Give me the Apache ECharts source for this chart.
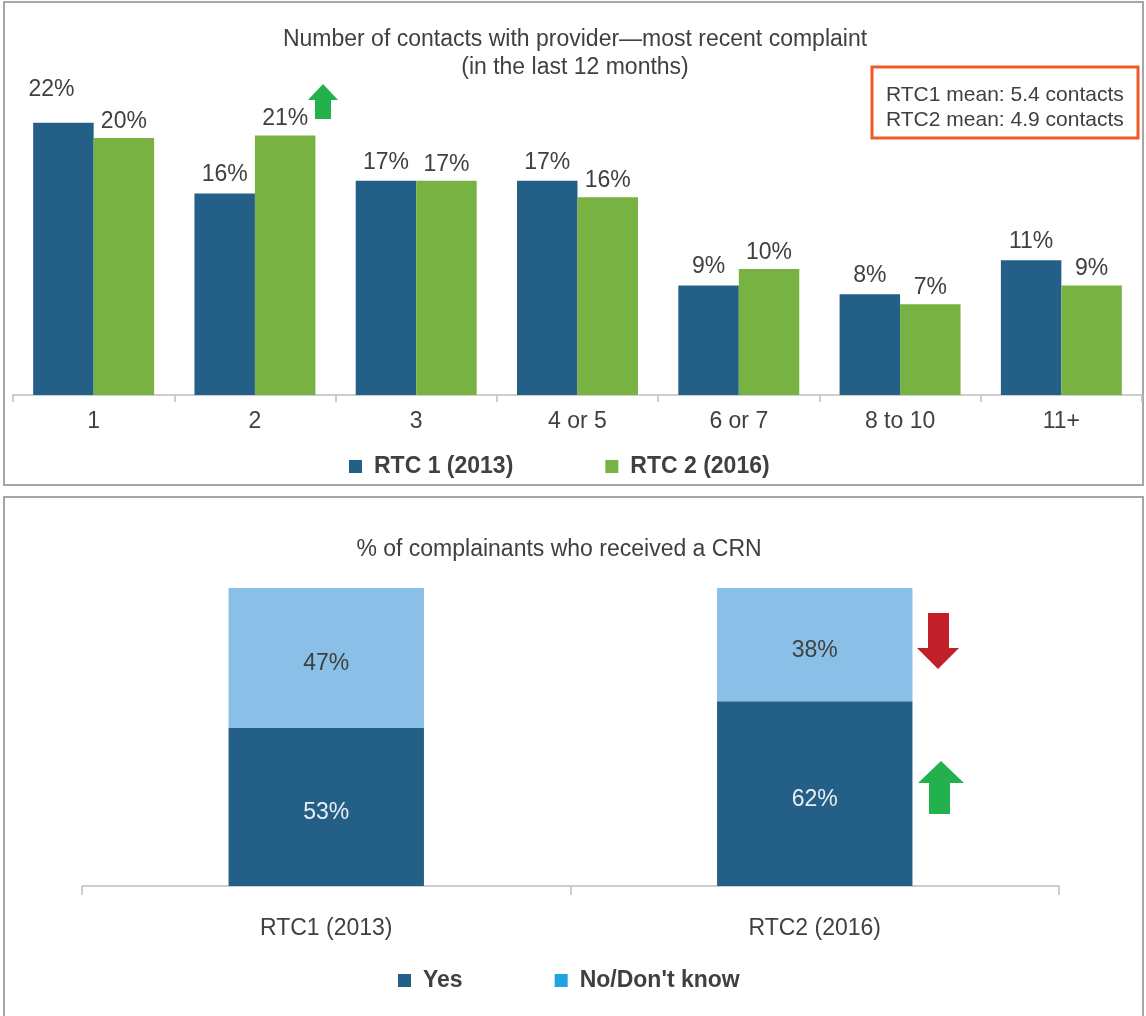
<!DOCTYPE html>
<html>
<head>
<meta charset="utf-8">
<script src="https://cdn.jsdelivr.net/npm/echarts@6/dist/echarts.min.js"></script>
<style>
  html, body { margin: 0; padding: 0; background: #fff; }
  #chart { width: 1146px; height: 1016px; }
</style>
</head>
<body>
<div id="chart"></div>
<script>
// top chart: number of contacts
const contactCats = ['1', '2', '3', '4 or 5', '6 or 7', '8 to 10', '11+']
const rtc1Contacts = [21.6, 16.0, 17.0, 17.0, 8.7, 8.0, 10.7]
const rtc2Contacts = [20.4, 20.6, 17.0, 15.7, 10.0, 7.2, 8.7]
const contactSeries = ['RTC 1 (2013)', 'RTC 2 (2016)']
const meanLines = ['RTC1 mean: 5.4 contacts', 'RTC2 mean: 4.9 contacts']

// bottom chart: received a CRN
const crnCats = ['RTC1 (2013)', 'RTC2 (2016)']
const crnYes = [53, 62]
const crnNo = [47, 38]
const crnSeries = ['Yes', "No/Don't know"]

const txt = '#404040'
const font = '"Liberation Sans", Arial, sans-serif'
const fs = 23
const darkBlue = '#245f87'
const green = '#77b243'
const lightBlue = '#8abfe8'

const chart = echarts.init(document.getElementById('chart'))

const pct = p => Math.round(p.value) + '%'

const legendText = { fontSize: fs, fontWeight: 'bold', color: txt, fontFamily: font, padding: [0, 0, 0, 7] }

const option = {
  animation: false,
  textStyle: { fontFamily: font },
  title: [
    {
      text: 'Number of contacts with provider\u2014most recent complaint\n(in the last 12 months)',
      left: 570, top: 21, textAlign: 'center',
      textStyle: { fontSize: fs, fontWeight: 'normal', color: txt, lineHeight: 28, fontFamily: font }
    },
    {
      text: '% of complainants who received a CRN',
      left: 554, top: 533, textAlign: 'center',
      textStyle: { fontSize: fs, fontWeight: 'normal', color: txt, fontFamily: font }
    }
  ],
  legend: [
    {
      data: contactSeries,
      top: 450, left: 344,
      icon: 'rect', itemWidth: 13, itemHeight: 13, itemGap: 92,
      textStyle: legendText
    },
    {
      data: [{ name: crnSeries[0] }, { name: crnSeries[1], itemStyle: { color: '#1ea4e0' } }],
      top: 964, left: 393,
      icon: 'rect', itemWidth: 13, itemHeight: 13, itemGap: 92,
      textStyle: legendText
    }
  ],
  grid: [
    { left: 13, right: 4, top: 80, bottom: 1016 - 395 },
    { left: 82, right: 87, top: 588, bottom: 1016 - 886 }
  ],
  xAxis: [
    {
      type: 'category', gridIndex: 0, data: contactCats,
      axisLine: { lineStyle: { color: '#bfbfbf', width: 1.5 } },
      axisTick: { show: true, alignWithLabel: false, length: 7, lineStyle: { color: '#bfbfbf', width: 1.5 } },
      axisLabel: { fontSize: fs, color: txt, margin: 15, fontFamily: font }
    },
    {
      type: 'category', gridIndex: 1, data: crnCats,
      axisLine: { lineStyle: { color: '#bfbfbf', width: 1.5 } },
      axisTick: { show: true, alignWithLabel: false, length: 9, lineStyle: { color: '#bfbfbf', width: 1.5 } },
      axisLabel: { fontSize: fs, color: txt, margin: 31, fontFamily: font }
    }
  ],
  yAxis: [
    { type: 'value', gridIndex: 0, min: 0, max: 25, show: false, splitLine: { show: false } },
    { type: 'value', gridIndex: 1, min: 0, max: 100, show: false, splitLine: { show: false } }
  ],
  series: [
    {
      name: contactSeries[0], type: 'bar', xAxisIndex: 0, yAxisIndex: 0,
      data: rtc1Contacts.map((v, i) => i === 0 ? { value: v, label: { offset: [-12, -15] } } : v),
      barGap: '0%', barCategoryGap: '25%',
      itemStyle: { color: darkBlue },
      label: { show: true, position: 'top', distance: 7, fontSize: fs, color: txt, formatter: pct, fontFamily: font }
    },
    {
      name: contactSeries[1], type: 'bar', xAxisIndex: 0, yAxisIndex: 0,
      data: rtc2Contacts,
      barGap: '0%', barCategoryGap: '25%',
      itemStyle: { color: green },
      label: { show: true, position: 'top', distance: 5, fontSize: fs, color: txt, formatter: pct, fontFamily: font }
    },
    {
      name: crnSeries[0], type: 'bar', xAxisIndex: 1, yAxisIndex: 1, stack: 'crn',
      data: crnYes, barWidth: '40%',
      itemStyle: { color: darkBlue },
      label: { show: true, position: 'inside', offset: [0, 6], fontSize: fs, color: '#e9eef3', formatter: pct, fontFamily: font }
    },
    {
      name: crnSeries[1], type: 'bar', xAxisIndex: 1, yAxisIndex: 1, stack: 'crn',
      data: crnNo, barWidth: '40%',
      itemStyle: { color: lightBlue },
      label: { show: true, position: 'inside', offset: [0, 6], fontSize: fs, color: txt, formatter: pct, fontFamily: font }
    }
  ],
  graphic: [
    // panel frames
    { type: 'rect', shape: { x: 4, y: 2, width: 1139, height: 483 }, style: { fill: 'none', stroke: '#a6a6a6', lineWidth: 2 }, silent: true },
    { type: 'rect', shape: { x: 4, y: 497, width: 1139, height: 540 }, style: { fill: 'none', stroke: '#a6a6a6', lineWidth: 2 }, silent: true },
    // mean box
    { type: 'rect', shape: { x: 872, y: 67, width: 266, height: 71 }, style: { fill: '#fff', stroke: '#f05a28', lineWidth: 3 } },
    {
      type: 'text', x: 886, y: 83,
      style: { text: meanLines.join('\n'), fill: txt, fontSize: 21, lineHeight: 25, fontFamily: font }
    },
    // arrows
    {
      type: 'polygon',
      shape: { points: [[323, 84], [338, 100], [331, 100], [331, 119], [315, 119], [315, 100], [308, 100]] },
      style: { fill: '#22b14c' }
    },
    {
      type: 'polygon',
      shape: { points: [[928, 613], [949, 613], [949, 648], [959, 648], [938, 669], [917, 648], [928, 648]] },
      style: { fill: '#c1202a' }
    },
    {
      type: 'polygon',
      shape: { points: [[941, 761], [964, 783], [950, 783], [950, 814], [929, 814], [929, 783], [918, 783]] },
      style: { fill: '#22b14c' }
    }
  ]
}

chart.setOption(option)
</script>
</body>
</html>
